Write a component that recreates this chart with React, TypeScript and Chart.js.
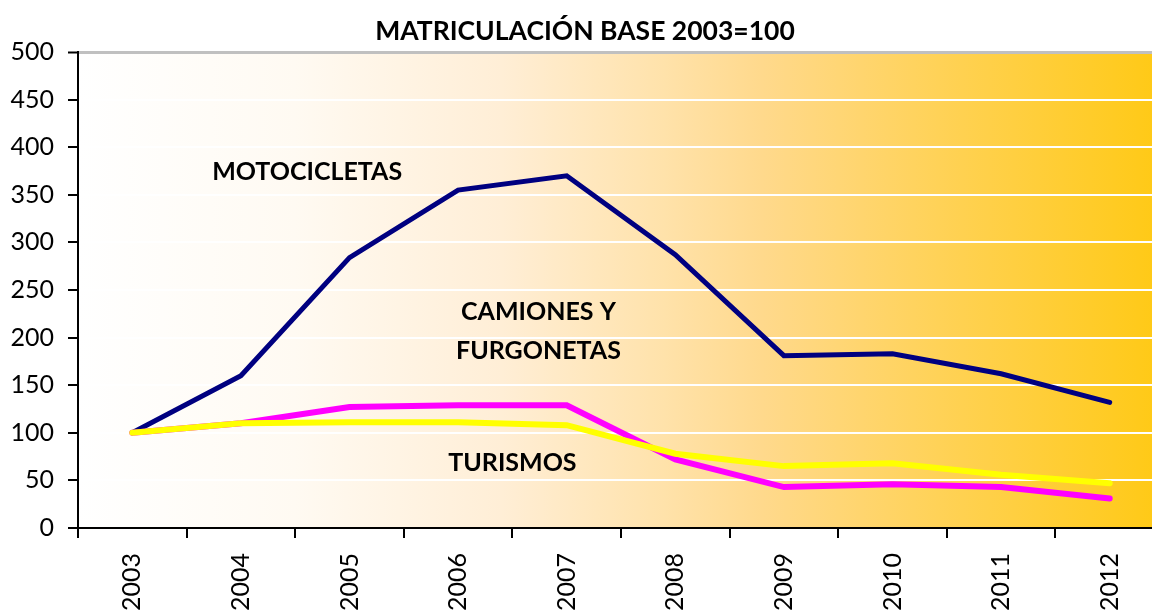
import React, { useEffect, useRef } from "react";
import { Chart, registerables } from "chart.js";

Chart.register(...registerables);

const years = ["2003", "2004", "2005", "2006", "2007", "2008", "2009", "2010", "2011", "2012"];
const motocicletas = [100, 160, 284, 355, 370, 287, 181, 183, 162, 132];
const camiones = [100, 110, 127, 129, 129, 72, 43, 46, 43, 31];
const turismos = [100, 110, 111, 111, 108, 78, 65, 68, 56, 47];
const yTicks = [0, 50, 100, 150, 200, 250, 300, 350, 400, 450, 500];

const titleText = "MATRICULACIÓN BASE 2003=100";
const annotations = [
  { text: "MOTOCICLETAS", x: 1.61, y: 374 },
  { text: "CAMIONES Y", x: 3.74, y: 227 },
  { text: "FURGONETAS", x: 3.74, y: 186 },
  { text: "TURISMOS", x: 3.5, y: 68 },
];

const FONT = "Lato, 'Open Sans', sans-serif";

const bgPlugin = {
  id: "bgGradient",
  beforeDraw(chart: any) {
    const { ctx, chartArea } = chart;
    if (!chartArea) return;
    const { left, top, right, bottom } = chartArea;
    const g = ctx.createLinearGradient(left, 0, right, 0);
    g.addColorStop(0, "#ffffff");
    g.addColorStop(0.2, "#fffaf2");
    g.addColorStop(0.39, "#ffeed6");
    g.addColorStop(0.54, "#ffe2aa");
    g.addColorStop(0.63, "#ffd98c");
    g.addColorStop(1, "#ffc914");
    ctx.save();
    ctx.fillStyle = g;
    ctx.fillRect(left, top, right - left, bottom - top);
    ctx.restore();
  },
};

const textPlugin = {
  id: "texts",
  afterDatasetsDraw(chart: any) {
    const { ctx, scales, chartArea } = chart;
    ctx.save();
    ctx.fillStyle = "#000";
    ctx.textAlign = "center";
    ctx.textBaseline = "middle";
    ctx.font = `bold 25px ${FONT}`;
    for (const a of annotations) {
      ctx.fillText(a.text, scales.x.getPixelForValue(a.x), scales.y.getPixelForValue(a.y));
    }
    ctx.font = `bold 26.5px ${FONT}`;
    ctx.fillText(titleText, 585, chartArea.top - 21);
    ctx.restore();
  },
};

export default function App() {
  const ref = useRef<HTMLCanvasElement>(null);
  useEffect(() => {
    if (!ref.current) return;
    const chart = new Chart(ref.current, {
      type: "line",
      data: {
        labels: years,
        datasets: [
          {
            label: "Turismos",
            data: turismos,
            borderColor: "#ffff00",
            borderWidth: 6,
            pointRadius: 0,
            order: 1,
            borderCapStyle: "round",
          },
          {
            label: "Camiones y furgonetas",
            data: camiones,
            borderColor: "#ff00ff",
            borderWidth: 6,
            pointRadius: 0,
            order: 2,
            borderCapStyle: "round",
          },
          {
            label: "Motocicletas",
            data: motocicletas,
            borderColor: "#000080",
            borderWidth: 5,
            pointRadius: 0,
            order: 3,
            borderCapStyle: "round",
          },
        ],
      },
      plugins: [bgPlugin, textPlugin],
      options: {
        animation: false,
        responsive: false,
        layout: { padding: { top: 52, right: 6, left: 0, bottom: 0 } },
        plugins: {
          legend: { display: false },
          title: { display: false },
          tooltip: { enabled: false },
        },
        scales: {
          x: {
            type: "category",
            offset: true,
            grid: {
              offset: true,
              drawOnChartArea: false,
              drawTicks: true,
              tickLength: 10,
              color: "#000",
              lineWidth: 2,
            },
            border: { display: true, color: "#000", width: 2 },
            ticks: {
              color: "#000",
              font: { family: FONT, size: 25 },
              maxRotation: 90,
              minRotation: 90,
              padding: 15,
            },
            afterFit(scale: any) {
              scale.height = 82;
            },
          },
          y: {
            min: 0,
            max: 500,
            afterBuildTicks(scale: any) {
              scale.ticks = yTicks.map((v) => ({ value: v }));
            },
            grid: {
              color: (c: any) => (c.tick && c.tick.value === 500 ? "#c0c0c0" : "#ffffff"),
              lineWidth: (c: any) => (c.tick && c.tick.value === 500 ? 3 : 2),
              tickColor: "#000",
              tickWidth: 2,
              tickLength: 10,
              drawTicks: true,
            },
            border: { display: true, color: "#000", width: 2 },
            ticks: {
              color: "#000",
              font: { family: FONT, size: 25 },
              padding: 14,
            },
            afterFit(scale: any) {
              scale.width = 78;
            },
          },
        },
      },
    } as any);
    return () => chart.destroy();
  }, []);
  return (
    <div style={{ position: "fixed", left: 0, top: 0, width: 1152, height: 610, overflow: "hidden", background: "#fff" }}>
      <canvas ref={ref} width={1170} height={610} style={{ display: "block" }} />
    </div>
  );
}
